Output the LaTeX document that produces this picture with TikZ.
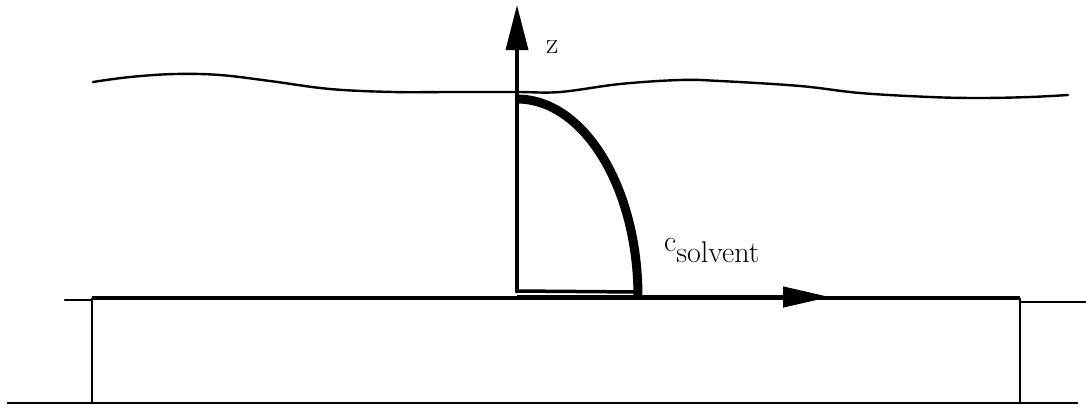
\documentclass[tikz,border=0pt]{standalone}
\usepackage{fontspec}
\usetikzlibrary{arrows.meta}
\begin{document}
\begin{tikzpicture}[x=1pt,y=-1pt,
  thinline/.style={line width=2.4pt,line cap=round},
  axisline/.style={line width=3.5pt},
  lbl/.style={inner sep=0pt,font=\fontsize{30}{36}\selectfont}]
\useasboundingbox (0,0) rectangle (1086,408);
% coordinates
\coordinate (O) at (517,297);
\coordinate (ztip) at (517,5);
\coordinate (ctip) at (830,297);
\coordinate (ctop) at (517,99);
\coordinate (cfoot) at (638,297);
% free surface
\draw[thinline] plot[smooth,tension=0.6] coordinates {(93,82) (130,77) (175,74) (220,75) (270,81) (330,89) (393,92) (450,92) (517,92) (560,92) (620,84) (680,80) (720,81) (800,86) (860,93) (930,97) (980,98) (1030,97) (1068,95)};
% substrate box
\draw[line width=4.5pt] (92,298) -- (1020,298);
\draw[thinline] (65,300) -- (92,300);
\draw[thinline] (1020,302) -- (1086,302);
\draw[line width=2.4pt] (92,298) -- (92,403);
\draw[line width=2.4pt] (1020,298) -- (1020,403);
\draw[line width=2.6pt] (7,403) -- (1078,403);
% axes
\draw[axisline,-{Triangle[length=45pt,width=22pt]}] (517,292) -- (ztip);
\draw[axisline] (515.5,291) -- (639,292);
\draw[line width=4.5pt,-{Triangle[length=47pt,width=20pt]}] (O) -- (ctip);
% concentration profile
\draw[line width=9pt] (ctop) arc[start angle=-90,end angle=0,x radius=121,y radius=198];
% labels
\node[lbl,anchor=base west] (zl) at (546,53) {z};
\node[lbl,anchor=base west] (cl) at (664,251) {c\raisebox{-11pt}{solvent}};
\end{tikzpicture}
\end{document}
